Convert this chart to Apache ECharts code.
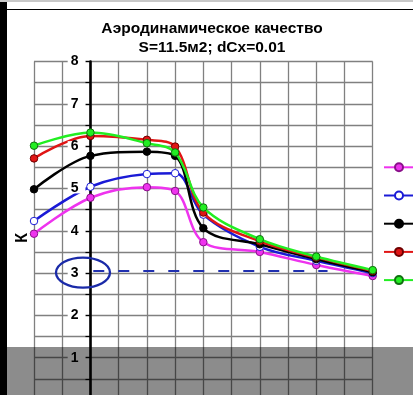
<!DOCTYPE html>
<html><head><meta charset="utf-8">
<script src="https://cdn.jsdelivr.net/npm/echarts@6/dist/echarts.min.js"></script>
<style>html,body{margin:0;padding:0;background:#fff}#c{width:413px;height:395px}</style>
</head><body><div id="c"></div>
<script>
const titleText = 'Аэродинамическое качество\nS=11.5м2; dCx=0.01';
const yName = 'К';
const seriesNames = ['Ряд1', 'Ряд2', 'Ряд3', 'Ряд4', 'Ряд5'];
const xValues = [-2, 0, 2, 3, 4, 6, 8, 10];
const kMagenta = [3.93, 4.78, 5.03, 4.94, 3.73, 3.50, 3.19, 2.93];
const kBlue    = [4.23, 5.04, 5.34, 5.36, 4.38, 3.62, 3.29, 3.00];
const kBlack   = [4.98, 5.77, 5.87, 5.77, 4.06, 3.68, 3.33, 3.02];
const kRed     = [5.71, 6.24, 6.15, 5.99, 4.43, 3.75, 3.37, 3.05];
const kGreen   = [6.01, 6.32, 6.07, 5.85, 4.55, 3.80, 3.39, 3.07];
const yTicks = [1, 2, 3, 4, 5, 6, 7, 8];
const annotationLevel = 3.05;
const annotationFrom = 0.1, annotationTo = 8.4;
const circledValue = [-0.3, 3.0];

const colors = ['#ee33ee', '#1a1ad6', '#000000', '#e01515', '#22ee22'];
const fills  = ['#ee33ee', '#ffffff', '#000000', '#e01515', '#22ee22'];
const borders= ['#8a108a', '#1a1ad6', '#000000', '#700000', '#107010'];
const allData = [kMagenta, kBlue, kBlack, kRed, kGreen];

const chart = echarts.init(document.getElementById('c'));
const series = allData.map((arr, i) => {
  const s = {
    name: seriesNames[i], type: 'line', smooth: 0.35,
    data: xValues.map((x, j) => [x, arr[j]]),
    symbol: 'circle', symbolSize: 7.5, showSymbol: true,
    lineStyle: {color: colors[i], width: 2.5},
    itemStyle: {color: fills[i], borderColor: borders[i], borderWidth: 1},
    emphasis: {disabled: true}, z: 2 + i * 0.01
  };
  if (i === 1) {
    s.markLine = {
      silent: true, symbol: 'none', label: {show: false},
      lineStyle: {color: '#2030b0', width: 2, type: [11, 14]},
      data: [[{coord: [annotationFrom, annotationLevel]}, {coord: [annotationTo, annotationLevel]}]]
    };
  }
  return s;
});

const labelAxis = {
  type: 'value', min: 0, max: 8, interval: 0.5, position: 'left', z: 5, offset: 0,
  name: yName, nameLocation: 'middle', nameGap: 60, nameRotate: 90,
  nameTextStyle: {fontFamily: 'Liberation Sans, Arial', fontWeight: 'bold', fontSize: 16, color: '#000', padding: [0, 14, 0, 0]},
  axisLine: {show: false, onZero: false},
  axisTick: {show: false},
  splitLine: {show: false},
  axisLabel: {
    show: true, margin: 5,
    formatter: v => (yTicks.indexOf(v) >= 0 ? String(v) : ''),
    fontFamily: 'Liberation Sans, Arial', fontWeight: 'bold', fontSize: 14, lineHeight: 10, color: '#000',
    backgroundColor: '#fff', padding: [0, 7, 0, 3]
  }
};

chart.setOption({
  animation: false,
  backgroundColor: '#fff',
  title: {
    text: titleText, left: 207, top: 14, textAlign: 'center',
    textStyle: {fontFamily: 'Liberation Sans, Arial', fontWeight: 'bold', fontSize: 15.5, lineHeight: 19, color: '#000'}
  },
  legend: {
    orient: 'vertical', left: 383, top: 162.3, padding: 0,
    itemWidth: 30, itemHeight: 10, itemGap: 18.2,
    formatter: () => '',
    textStyle: {fontSize: 8, lineHeight: 8},
    data: seriesNames, selectedMode: false
  },
  grid: {left: 34, top: 61.5, width: 338.7, height: 338.5, containLabel: false, outerBoundsMode: 'none'},
  xAxis: {
    type: 'value', min: -2, max: 10, interval: 1,
    axisLine: {show: true, onZero: true, lineStyle: {color: '#000', width: 2}},
    axisTick: {show: false}, axisLabel: {show: false},
    splitLine: {show: true, lineStyle: {color: '#808080', width: 1.3}}
  },
  yAxis: [{
    type: 'value', min: 0, max: 8, interval: 0.5, position: 'left',
    axisLine: {show: true, onZero: true, lineStyle: {color: '#000', width: 2.6}},
    axisTick: {show: true, inside: false, length: 5, lineStyle: {color: '#000', width: 1.2}},
    axisLabel: {show: false},
    splitLine: {show: true, lineStyle: {color: '#808080', width: 1.3}}
  }, labelAxis],
  series: series
});

const leftPx = chart.convertToPixel({xAxisIndex: 0}, -2);
const zeroPx = chart.convertToPixel({xAxisIndex: 0}, 0);
labelAxis.offset = leftPx - zeroPx;
chart.setOption({yAxis: [{}, labelAxis]});

const c = chart.convertToPixel({gridIndex: 0}, circledValue);
chart.setOption({
  graphic: [
    {type: 'rect', shape: {x: 0, y: 0, width: 7, height: 395}, style: {fill: '#000'}, z: 90},
    {type: 'rect', shape: {x: 0, y: 0, width: 413, height: 2}, style: {fill: '#c8c8c8'}, z: 90},
    {type: 'rect', shape: {x: 7, y: 9, width: 406, height: 1}, style: {fill: '#000'}, z: 90},
    {type: 'ellipse', shape: {cx: c[0] + 1, cy: c[1] - 0.5, rx: 27, ry: 15}, style: {fill: 'none', stroke: '#1a2aa8', lineWidth: 2.3}, z: 95},
    {type: 'rect', shape: {x: 0, y: 347, width: 413, height: 48}, style: {fill: 'rgba(0,0,0,0.45)'}, z: 100}
  ]
});
</script></body></html>
